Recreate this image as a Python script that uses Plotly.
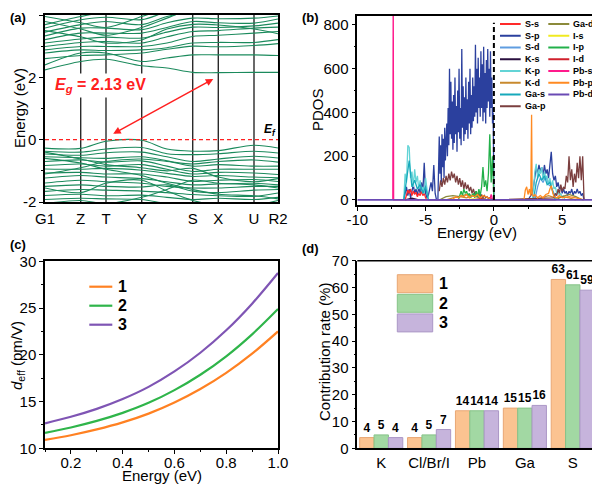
import numpy as np
import plotly.graph_objects as go

# page body has an 8px margin: the figure is sized to fit the 600x488 window
OFF = 8
W, H = 600 - OFF, 488 - OFF
FONT = "Arial, Liberation Sans, sans-serif"


def px(x):
    return (x - OFF) / W


def py(y):
    return 1 - (y - OFF) / H


# ---------------- (a) band structure ----------------
k_names = ["G1", "Z", "T", "Y", "S", "X", "U", "R2"]
k_pos = [0, 35.7, 61, 96.7, 147.7, 173.3, 209, 233]
k_sample = [0, 35.7, 61, 96.7, 122, 147.7, 173.3, 209, 233]

cond_bands = [
    [2.24, 2.51, 2.58, 2.37, 2.30, 2.16, 2.15, 2.16, 2.16],
    [2.40, 2.78, 2.78, 2.51, 2.62, 2.72, 2.72, 2.72, 2.70],
    [2.78, 2.88, 2.86, 2.88, 2.95, 3.10, 3.12, 3.12, 3.21],
    [2.88, 2.99, 2.99, 2.99, 3.10, 3.31, 3.35, 3.42, 3.47],
    [2.99, 3.12, 3.15, 3.10, 3.30, 3.47, 3.50, 3.58, 3.61],
    [3.10, 3.23, 3.29, 3.26, 3.45, 3.61, 3.60, 3.65, 3.74],
    [3.21, 3.42, 3.42, 3.42, 3.60, 3.79, 3.75, 3.74, 3.87],
    [3.33, 3.58, 3.58, 3.53, 3.75, 3.90, 3.88, 3.90, 3.97],
    [3.45, 3.69, 3.79, 3.69, 3.95, 4.10, 4.10, 4.10, 4.10],
    [3.58, 3.85, 3.93, 3.85, 4.10, 4.20, 4.20, 4.20, 4.20],
    [3.69, 3.95, 4.10, 4.20, 4.30, 4.30, 4.30, 4.30, 4.30],
    [3.79, 3.55, 3.35, 3.60, 3.90, 4.20, 4.20, 4.20, 4.20],
    [3.95, 3.75, 3.60, 3.95, 4.20, 4.30, 4.30, 4.30, 4.30],
    [2.60, 2.70, 2.72, 2.78, 2.90, 3.00, 2.98, 3.02, 3.08],
    [3.50, 3.30, 3.10, 3.20, 3.55, 3.70, 3.68, 3.55, 3.40],
]

val_bands = [
    [-0.27, -0.28, -0.05, -0.02, -0.30, -0.37, -0.35, -0.18, -0.27],
    [-0.37, -0.40, -0.30, -0.25, -0.45, -0.48, -0.45, -0.37, -0.43],
    [-0.46, -0.50, -0.42, -0.40, -0.55, -0.70, -0.62, -0.53, -0.59],
    [-0.55, -0.58, -0.60, -0.55, -0.68, -0.85, -0.80, -0.85, -0.85],
    [-0.70, -0.65, -0.72, -0.68, -0.85, -1.02, -0.95, -0.95, -0.95],
    [-0.83, -0.78, -0.85, -0.80, -0.95, -1.10, -1.05, -1.07, -1.12],
    [-0.94, -0.95, -0.92, -0.98, -1.08, -1.18, -1.15, -1.20, -1.22],
    [-1.07, -1.05, -1.10, -1.10, -1.20, -1.34, -1.30, -1.28, -1.34],
    [-1.23, -1.15, -1.20, -1.25, -1.35, -1.45, -1.42, -1.40, -1.45],
    [-1.39, -1.30, -1.35, -1.40, -1.50, -1.55, -1.55, -1.50, -1.50],
    [-1.50, -1.45, -1.50, -1.52, -1.45, -1.65, -1.70, -1.62, -1.60],
    [-1.66, -1.60, -1.62, -1.65, -1.70, -1.76, -1.80, -1.82, -1.71],
    [-1.79, -1.75, -1.80, -1.78, -1.85, -1.92, -1.88, -1.92, -1.85],
    [-1.92, -1.88, -1.90, -1.92, -2.05, -2.10, -2.05, -2.10, -1.95],
    [-0.60, -0.75, -0.95, -1.15, -1.40, -1.60, -1.75, -1.80, -1.90],
    [-1.10, -0.90, -0.70, -0.62, -0.70, -0.78, -0.70, -0.65, -0.72],
    [-1.55, -1.70, -1.40, -1.30, -1.65, -1.95, -2.10, -2.10, -2.10],
    [-2.05, -1.95, -2.05, -1.85, -1.60, -1.30, -1.40, -1.45, -1.55],
    [-0.40, -0.62, -0.80, -0.90, -1.00, -0.92, -1.20, -1.35, -1.25],
]

# ---------------- (b) PDOS ----------------
sp_left = [0, 30, 60, 20, 50, 10, 40, 70, 30, 50, 20, 60, 30, 80, 40, 170, 30, 10, 20, 50,
           80, 40, 160, 30, 0, 0]                                  # -6.6 .. -4.1 step 0.1
sp_main = [290, 120, 250, 80, 300, 150, 280, 100, 330, 180, 260,
           350, 200, 420, 250, 600, 300, 540, 280, 450, 230,
           480, 260, 560, 300, 430, 220, 500, 310, 600, 280,
           420, 250, 690, 330, 520, 270, 470, 300, 560, 320,
           460, 280, 540, 350, 600, 300, 480, 330, 560, 360,
           520, 380, 710, 400, 600, 350, 650, 420, 560, 380,
           680, 420, 620, 360, 700, 400, 580, 350, 640, 420,
           690, 450, 600, 380, 680, 420, 560, 350, 400]            # -4.0 .. -0.05 step 0.05
sp_right = [0, 10, 20, 30, 60, 110, 150, 120, 160, 130, 150, 110, 160, 120, 140, 100, 170, 220,
            120, 90, 110, 60, 80, 50, 60, 30, 50, 30, 40, 20, 40, 30, 50, 20, 40, 30, 50, 30,
            40, 20, 30, 0]                                         # 2.5 .. 6.6 step 0.1
gap_left = [40, 90, 60, 100, 70, 110, 80, 120, 90, 130, 100, 120, 80, 110, 70, 100, 60, 90, 50,
            80, 50, 70, 40, 60, 30, 50, 25, 40, 20, 30, 15, 25, 10, 20, 10, 15, 5, 10, 5, 0]  # -4.0..-0.1
gap_right = [10, 30, 20, 50, 30, 70, 40, 60, 50, 110, 80, 200, 90, 140, 60, 120, 80, 170, 100,
             200, 90, 200, 0]                                      # 4.4 .. 6.6
kp_left = [0, 120, 80, 250, 240, 100, 130, 60, 140, 80, 110, 50, 90, 40, 60, 30, 100, 50, 0]  # -6.6..-4.8
kp_right = [0, 50, 130, 165, 100, 140, 120, 150, 90, 130, 100, 110, 70, 100, 60, 90, 50, 60, 30,
            40, 20, 30, 10, 20, 0]                                 # 2.8 .. 5.2
gas_left = [0, 90, 180, 60, 90, 50, 70, 30, 60, 0]                 # -6.6..-4.8 step 0.2
gas_right = [0, 80, 120, 90, 110, 70, 80, 40, 0]                   # 2.9..4.5 step 0.2
ss_left = [0, 20, 45, 30, 50, 20, 40, 25, 35, 15, 30, 20, 40, 20, 30, 10, 0]  # -6.5..-4.9
ip_vals = [0, 20, 40, 20, 50, 30, 40, 20, 30, 10, 20, 30, 10, 40, 15, 50, 20, 60, 150, 60, 90,
           40, 120, 300, 80, 200, 0]                               # -2.6 .. 0.0
pbp_left = [5, 15, 10, 20, 15, 25, 10, 20, 15, 25, 10, 20, 15, 10, 0]  # -3.0..-0.2 step 0.2
pbp_right_E = [2.2, 2.3, 2.4, 2.5, 2.6, 2.7, 2.76, 2.8, 2.9, 3.0, 3.2, 3.4, 3.6, 3.8, 4.0, 4.1,
               4.2, 4.3, 4.4, 4.6, 4.8, 5.0, 5.5, 6.0, 6.6]
pbp_right = [0, 45, 60, 25, 50, 20, 390, 30, 15, 25, 10, 20, 10, 25, 30, 50, 65, 35, 15, 10, 20,
             10, 15, 10, 0]
sd_right = [0, 60, 100, 80, 110, 70, 60, 30, 0]                    # 3.0..4.6 step 0.2
kd_left = [0, 10, 15, 10, 20, 10, 0]                               # -3.5..-0.5 step 0.5
kd_right = [0, 10, 20, 10, 15, 10, 0]                              # 3.0..6.0 step 0.5
gad_left = [0, 15, 20, 15, 25, 20, 10, 0]                          # -4.0..-0.5 step 0.5
gad_right = [0, 15, 25, 15, 0]                                     # 4.5..6.5 step 0.5
ks_vals = [0, 8, 0]
is_vals = [0, 5, 0]
id_vals = [0, 6, 0]
pbs_E = [-7.40, -7.37, -7.34, -0.30, -0.20, -0.10]
pbs_vals = [0, 1000, 0, 0, 25, 0]
pbd_E = [-10, 7.6]
pbd_vals = [0, 0]

# ---------------- (c) d_eff ----------------
energy_c = [0.1, 0.2, 0.3, 0.4, 0.5, 0.6, 0.7, 0.8, 0.9, 1.0]
deff_1 = [10.9, 11.40, 12.02, 12.77, 13.71, 14.90, 16.34, 18.07, 20.12, 22.5]
deff_2 = [11.65, 12.23, 12.93, 13.79, 14.86, 16.22, 17.87, 19.84, 22.19, 24.9]
deff_3 = [12.67, 13.37, 14.22, 15.27, 16.57, 18.22, 20.22, 22.62, 25.47, 28.75]

# ---------------- (d) contribution ----------------
elements = ["K", "Cl/Br/I", "Pb", "Ga", "S"]
contrib_1 = [4, 4, 14, 15, 63]
contrib_2 = [5, 5, 14, 15, 61]
contrib_3 = [4, 7, 14, 16, 59]
series_names = ["1", "2", "3"]


def grid(start, step, n):
    return list(np.round(start + step * np.arange(n), 3))


fig = go.Figure()

# ---- (a) traces
band_color = "#1b8a5c"
for b in cond_bands + val_bands:
    fig.add_trace(go.Scatter(x=k_sample, y=b, mode="lines", line=dict(color=band_color, width=1.1, shape="spline", smoothing=0.9),
                             xaxis="x", yaxis="y", showlegend=False, hoverinfo="skip"))


# ---- (b) traces
def segs(*parts):
    E, V = [], []
    for (e, v) in parts:
        E += list(e)
        V += list(v)
    return E, V


pdos = [
    ("S-p", "#2b409e", segs((grid(-6.6, 0.1, 26), sp_left), (grid(-4.0, 0.05, 80), sp_main), ([0.0], [0]), (grid(2.5, 0.1, 42), sp_right))),
    ("S-s", "#ff2a2a", segs((grid(-6.5, 0.1, 17), ss_left),)),
    ("S-d", "#5f9de0", segs((grid(3.0, 0.2, 9), sd_right),)),
    ("K-s", "#2a0f3f", segs(([-6.5, -6.0, -5.5], ks_vals),)),
    ("K-p", "#63d4d6", segs((grid(-6.6, 0.1, 19), kp_left), (grid(2.8, 0.1, 25), kp_right))),
    ("K-d", "#c88a2e", segs((grid(-3.5, 0.5, 7), kd_left), (grid(3.0, 0.5, 7), kd_right))),
    ("Ga-s", "#17a9bb", segs((grid(-6.6, 0.2, 10), gas_left), (grid(2.9, 0.2, 9), gas_right))),
    ("Ga-p", "#7b3f3f", segs((grid(-4.0, 0.1, 40), gap_left), (grid(4.4, 0.1, 23), gap_right))),
    ("Ga-d", "#8b8a3a", segs((grid(-4.0, 0.5, 8), gad_left), (grid(4.5, 0.5, 5), gad_right))),
    ("I-s", "#f0ea20", segs(([-2.0, -1.5, -1.0], is_vals),)),
    ("I-p", "#22b04a", segs((grid(-2.6, 0.1, 27), ip_vals),)),
    ("I-d", "#d0202c", segs(([-1.5, -1.0, -0.5], id_vals),)),
    ("Pb-s", "#ff1a8c", segs((pbs_E, pbs_vals),)),
    ("Pb-p", "#ff8a22", segs((grid(-3.0, 0.2, 15), pbp_left), (pbp_right_E, pbp_right))),
    ("Pb-d", "#6a4ab4", segs((pbd_E, pbd_vals),)),
]
for name, col, (E, V) in pdos:
    fig.add_trace(go.Scatter(x=E, y=V, mode="lines", name=name, line=dict(color=col, width=1.3 if name != "Pb-d" else 1.8),
                             xaxis="x2", yaxis="y2", showlegend=False, hoverinfo="skip"))

# ---- (c) traces
c_colors = ["#ff8122", "#2fb54a", "#7f55b4"]
for name, vals, col in zip(series_names, [deff_1, deff_2, deff_3], c_colors):
    fig.add_trace(go.Scatter(x=energy_c, y=vals, mode="lines", name=name, line=dict(color=col, width=2.2, shape="spline"),
                             xaxis="x3", yaxis="y3", showlegend=False))

# ---- (d) traces
d_colors = ["#fbc391", "#a2d8a3", "#c6b4dc"]
d_edges = ["#e8a774", "#86c388", "#ab97c6"]
for name, vals, col, ed in zip(series_names, [contrib_1, contrib_2, contrib_3], d_colors, d_edges):
    fig.add_trace(go.Bar(x=elements, y=vals, name=name, marker=dict(color=col, line=dict(color=ed, width=1)),
                         text=vals, textposition="outside", constraintext="none", cliponaxis=False,
                         textfont=dict(family=FONT, size=12, color="black", weight="bold"),
                         xaxis="x4", yaxis="y4", showlegend=False))

axis_common = dict(showline=True, mirror=True, linecolor="black", linewidth=1.5, showgrid=False, zeroline=False,
                   ticks="outside", ticklen=4, tickwidth=1.2, tickcolor="black", automargin=False,
                   tickfont=dict(family=FONT, size=15, color="black"))

layout = dict(
    width=W, height=H, margin=dict(l=0, r=0, t=0, b=0), paper_bgcolor="white", plot_bgcolor="white",
    font=dict(family=FONT, color="black"), barmode="group", bargap=0.1, bargroupgap=0,
    xaxis=dict(axis_common, domain=[px(45), px(278)], anchor="y", range=[0, 233], tickvals=k_pos, ticktext=k_names,
               ticks="", ticklabelstandoff=2),
    yaxis=dict(axis_common, domain=[py(202), py(15)], anchor="x", range=[-2, 4], tickvals=[-2, 0, 2, 4],
               ticktext=["-2", "0", "2", "4"], minor=dict(ticks="outside", ticklen=2, dtick=1, tickcolor="black")),
    xaxis2=dict(axis_common, domain=[px(357.3), px(597.7)], anchor="y2", range=[-10, 7.6], tickvals=[-10, -5, 0, 5],
                ticktext=["-10", "-5", "0", "5"], ticklabelstandoff=-4,
                minor=dict(ticks="outside", ticklen=2, dtick=2.5, tickcolor="black")),
    yaxis2=dict(axis_common, domain=[py(205), py(16)], anchor="x2", range=[-23, 841], tickvals=[0, 200, 400, 600, 800],
                minor=dict(ticks="outside", ticklen=2, dtick=100, tickcolor="black")),
    xaxis3=dict(axis_common, domain=[px(45), px(278)], anchor="y3", range=[0.1, 1.0], tickvals=[0.2, 0.4, 0.6, 0.8, 1.0],
                ticktext=["0.2", "0.4", "0.6", "0.8", "1.0"], ticklabelstandoff=-4,
                minor=dict(ticks="outside", ticklen=2, dtick=0.1, tickcolor="black")),
    yaxis3=dict(axis_common, domain=[py(448.3), py(261.3)], anchor="x3", range=[10, 30], tickvals=[10, 15, 20, 25, 30],
                minor=dict(ticks="outside", ticklen=2, dtick=2.5, tickcolor="black")),
    xaxis4=dict(axis_common, domain=[px(357.3), px(596.7)], anchor="y4", range=[-0.5, 4.5], ticks="", mirror=False,
                showline=True),
    yaxis4=dict(axis_common, domain=[py(448.3), py(260.7)], anchor="x4", range=[0, 70], tickvals=[0, 10, 20, 30, 40, 50, 60, 70],
                minor=dict(ticks="outside", ticklen=2, dtick=5, tickcolor="black")),
)
fig.update_layout(**layout)

shapes = []
# (a) high symmetry vertical lines
for kx in k_pos[1:-1]:
    shapes.append(dict(type="line", xref="x", yref="y domain", x0=kx, x1=kx, y0=0, y1=1,
                       line=dict(color="#2a2a2a", width=1.4), layer="below"))
# Fermi level (a)
shapes.append(dict(type="line", xref="x", yref="y", x0=0, x1=233, y0=0, y1=0,
                   line=dict(color="#ff2020", width=1.3, dash="4px,3px")))
# Fermi level (b)
shapes.append(dict(type="line", xref="x2", yref="y2", x0=0, x1=0, y0=0, y1=810,
                   line=dict(color="black", width=2, dash="5px,3px")))
# top/right frame for (d)
shapes.append(dict(type="line", xref="paper", yref="paper", x0=px(357.3), x1=px(596.7), y0=py(260.7), y1=py(260.7),
                   line=dict(color="black", width=1.5)))
shapes.append(dict(type="line", xref="paper", yref="paper", x0=px(596.7), x1=px(596.7), y0=py(260.7), y1=py(448.3),
                   line=dict(color="black", width=1.5)))

annotations = []
# (b) legend (two columns)
col1 = pdos[1:2] + pdos[0:1] + pdos[2:8]
col2 = pdos[8:15]
for col_items, lx0, lx1, tx in [(col1, 500, 520.7, 522.7), (col2, 548.3, 569.3, 571)]:
    for i, (name, col, _) in enumerate(col_items):
        yy = 24 + i * 11.75
        shapes.append(dict(type="line", xref="paper", yref="paper", x0=px(lx0), x1=px(lx1), y0=py(yy), y1=py(yy),
                           line=dict(color=col, width=2)))
        annotations.append(dict(x=px(tx), y=py(yy), xref="paper", yref="paper", text="<b>%s</b>" % name, showarrow=False,
                                xanchor="left", yanchor="middle", font=dict(family=FONT, size=9, color="black")))
# (c) legend
for i, (name, col) in enumerate(zip(series_names, c_colors)):
    yy = 286.7 + i * 19
    shapes.append(dict(type="line", xref="paper", yref="paper", x0=px(89.3), x1=px(112.3), y0=py(yy), y1=py(yy),
                       line=dict(color=col, width=2.2)))
    annotations.append(dict(x=px(115.5), y=py(yy), xref="paper", yref="paper", text="<b>%s</b>" % name, showarrow=False,
                            xanchor="left", yanchor="middle", font=dict(family=FONT, size=16, color="black")))
# (d) legend
for i, (name, col, ed) in enumerate(zip(series_names, d_colors, d_edges)):
    y0 = 274.7 + i * 19.6
    shapes.append(dict(type="rect", xref="paper", yref="paper", x0=px(397.3), x1=px(432.7), y0=py(y0), y1=py(y0 + 18),
                       fillcolor=col, line=dict(color=ed, width=1)))
    annotations.append(dict(x=px(437), y=py(y0 + 9), xref="paper", yref="paper", text="<b>%s</b>" % name, showarrow=False,
                            xanchor="left", yanchor="middle", font=dict(family=FONT, size=16, color="black")))

# (a) annotations
annotations.append(dict(x=168.3, y=1.95, ax=66.7, ay=0.16, xref="x", yref="y", axref="x", ayref="y", text="",
                        showarrow=True, arrowhead=2, startarrowhead=2, arrowside="end+start", arrowsize=1,
                        startarrowsize=1, arrowwidth=1.5, arrowcolor="#ff2020"))
annotations.append(dict(x=55, y=1.73, xref="x", yref="y", text="<b><i>E<sub>g</sub></i> = 2.13 eV</b>", showarrow=False,
                        font=dict(family=FONT, size=16, color="#ff2020"), bgcolor="white", borderpad=2))
annotations.append(dict(x=225, y=0.3, xref="x", yref="y", text="<b><i>E<sub>f</sub></i></b>", showarrow=False,
                        font=dict(family=FONT, size=12, color="black")))

# axis titles
titles = [
    ("Energy (eV)", 19, 108, -90),
    ("PDOS", 317, 110, -90),
    ("Energy (eV)", 477, 232, 0),
    ("<i>d</i><sub>eff</sub> (pm/V)", 17, 356, -90),
    ("Energy (eV)", 162, 475, 0),
    ("Contribution rate (%)", 324, 352, -90),
]
for t, x, y, ang in titles:
    annotations.append(dict(x=px(x), y=py(y), xref="paper", yref="paper", text=t, showarrow=False, textangle=ang,
                            xanchor="center", yanchor="middle", font=dict(family=FONT, size=15, color="black")))

# panel labels
for t, x, y, ya in [("(a)", 8, 8, "top"), ("(b)", 300, 8, "top"), ("(c)", 8, 244, "middle"), ("(d)", 300, 248, "middle")]:
    annotations.append(dict(x=px(x), y=py(y), xref="paper", yref="paper", text="<b>%s</b>" % t, showarrow=False,
                            xanchor="left", yanchor=ya, font=dict(family=FONT, size=13, color="black")))

fig.update_layout(shapes=shapes, annotations=annotations)
fig.write_html("out.html")
